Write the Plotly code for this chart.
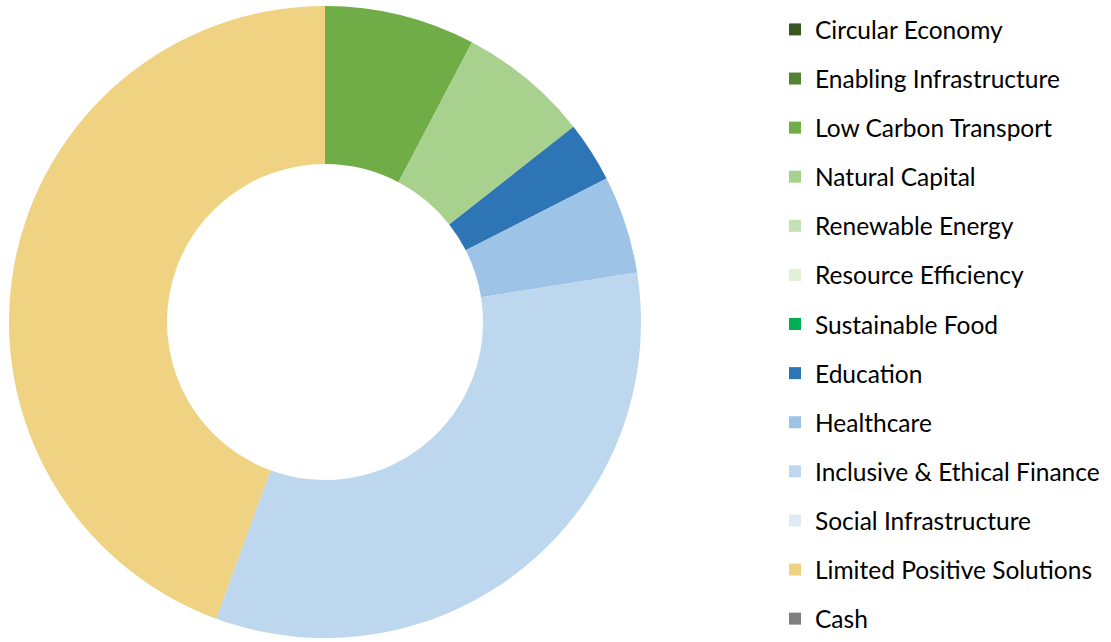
import plotly.graph_objects as go

labels = ["Circular Economy", "Enabling Infrastructure", "Low Carbon Transport",
          "Natural Capital", "Renewable Energy", "Resource Efficiency",
          "Sustainable Food", "Education", "Healthcare",
          "Inclusive & Ethical Finance", "Social Infrastructure",
          "Limited Positive Solutions", "Cash"]
values = [0, 0, 7.7, 6.7, 0, 0, 0, 3.1, 5.0, 33.1, 0, 44.4, 0]
colors = ["#375623", "#548235", "#70AD47", "#A9D18E", "#C5E0B4", "#E2F0D9",
          "#00B050", "#2E75B6", "#9DC3E6", "#BDD7EE", "#DEEBF7", "#F0D283", "#808080"]

W, H = 1111, 642
fig = go.Figure()
fig.add_trace(go.Pie(
    labels=labels, values=values, sort=False, direction="clockwise", rotation=0,
    hole=0.5, marker=dict(colors=colors, line=dict(width=0)),
    textinfo="none", hoverinfo="label+percent", showlegend=False,
    domain=dict(x=[9 / W, 641 / W], y=[1 - 638 / H, 1 - 6 / H]),
))
for lab, col in zip(labels, colors):
    fig.add_trace(go.Scatter(
        x=[None], y=[None], mode="markers", name=lab, legendgroup=lab,
        marker=dict(symbol="square", size=16, color=col),
        showlegend=True, hoverinfo="skip"))

fig.update_layout(
    width=W, height=H, margin=dict(l=0, r=0, t=0, b=0),
    paper_bgcolor="white", plot_bgcolor="white",
    xaxis=dict(visible=False), yaxis=dict(visible=False),
    font=dict(family="Lato, Calibri, sans-serif", color="#000000"),
    legend=dict(x=775 / W, xanchor="left", y=1 - 11 / H, yanchor="top",
                font=dict(size=24.5, color="#000000"), tracegroupgap=14.25,
                itemsizing="constant", bgcolor="rgba(0,0,0,0)"),
)
fig.write_html("out.html", config={"displayModeBar": False},
               post_script="document.body.style.margin='0px';")
